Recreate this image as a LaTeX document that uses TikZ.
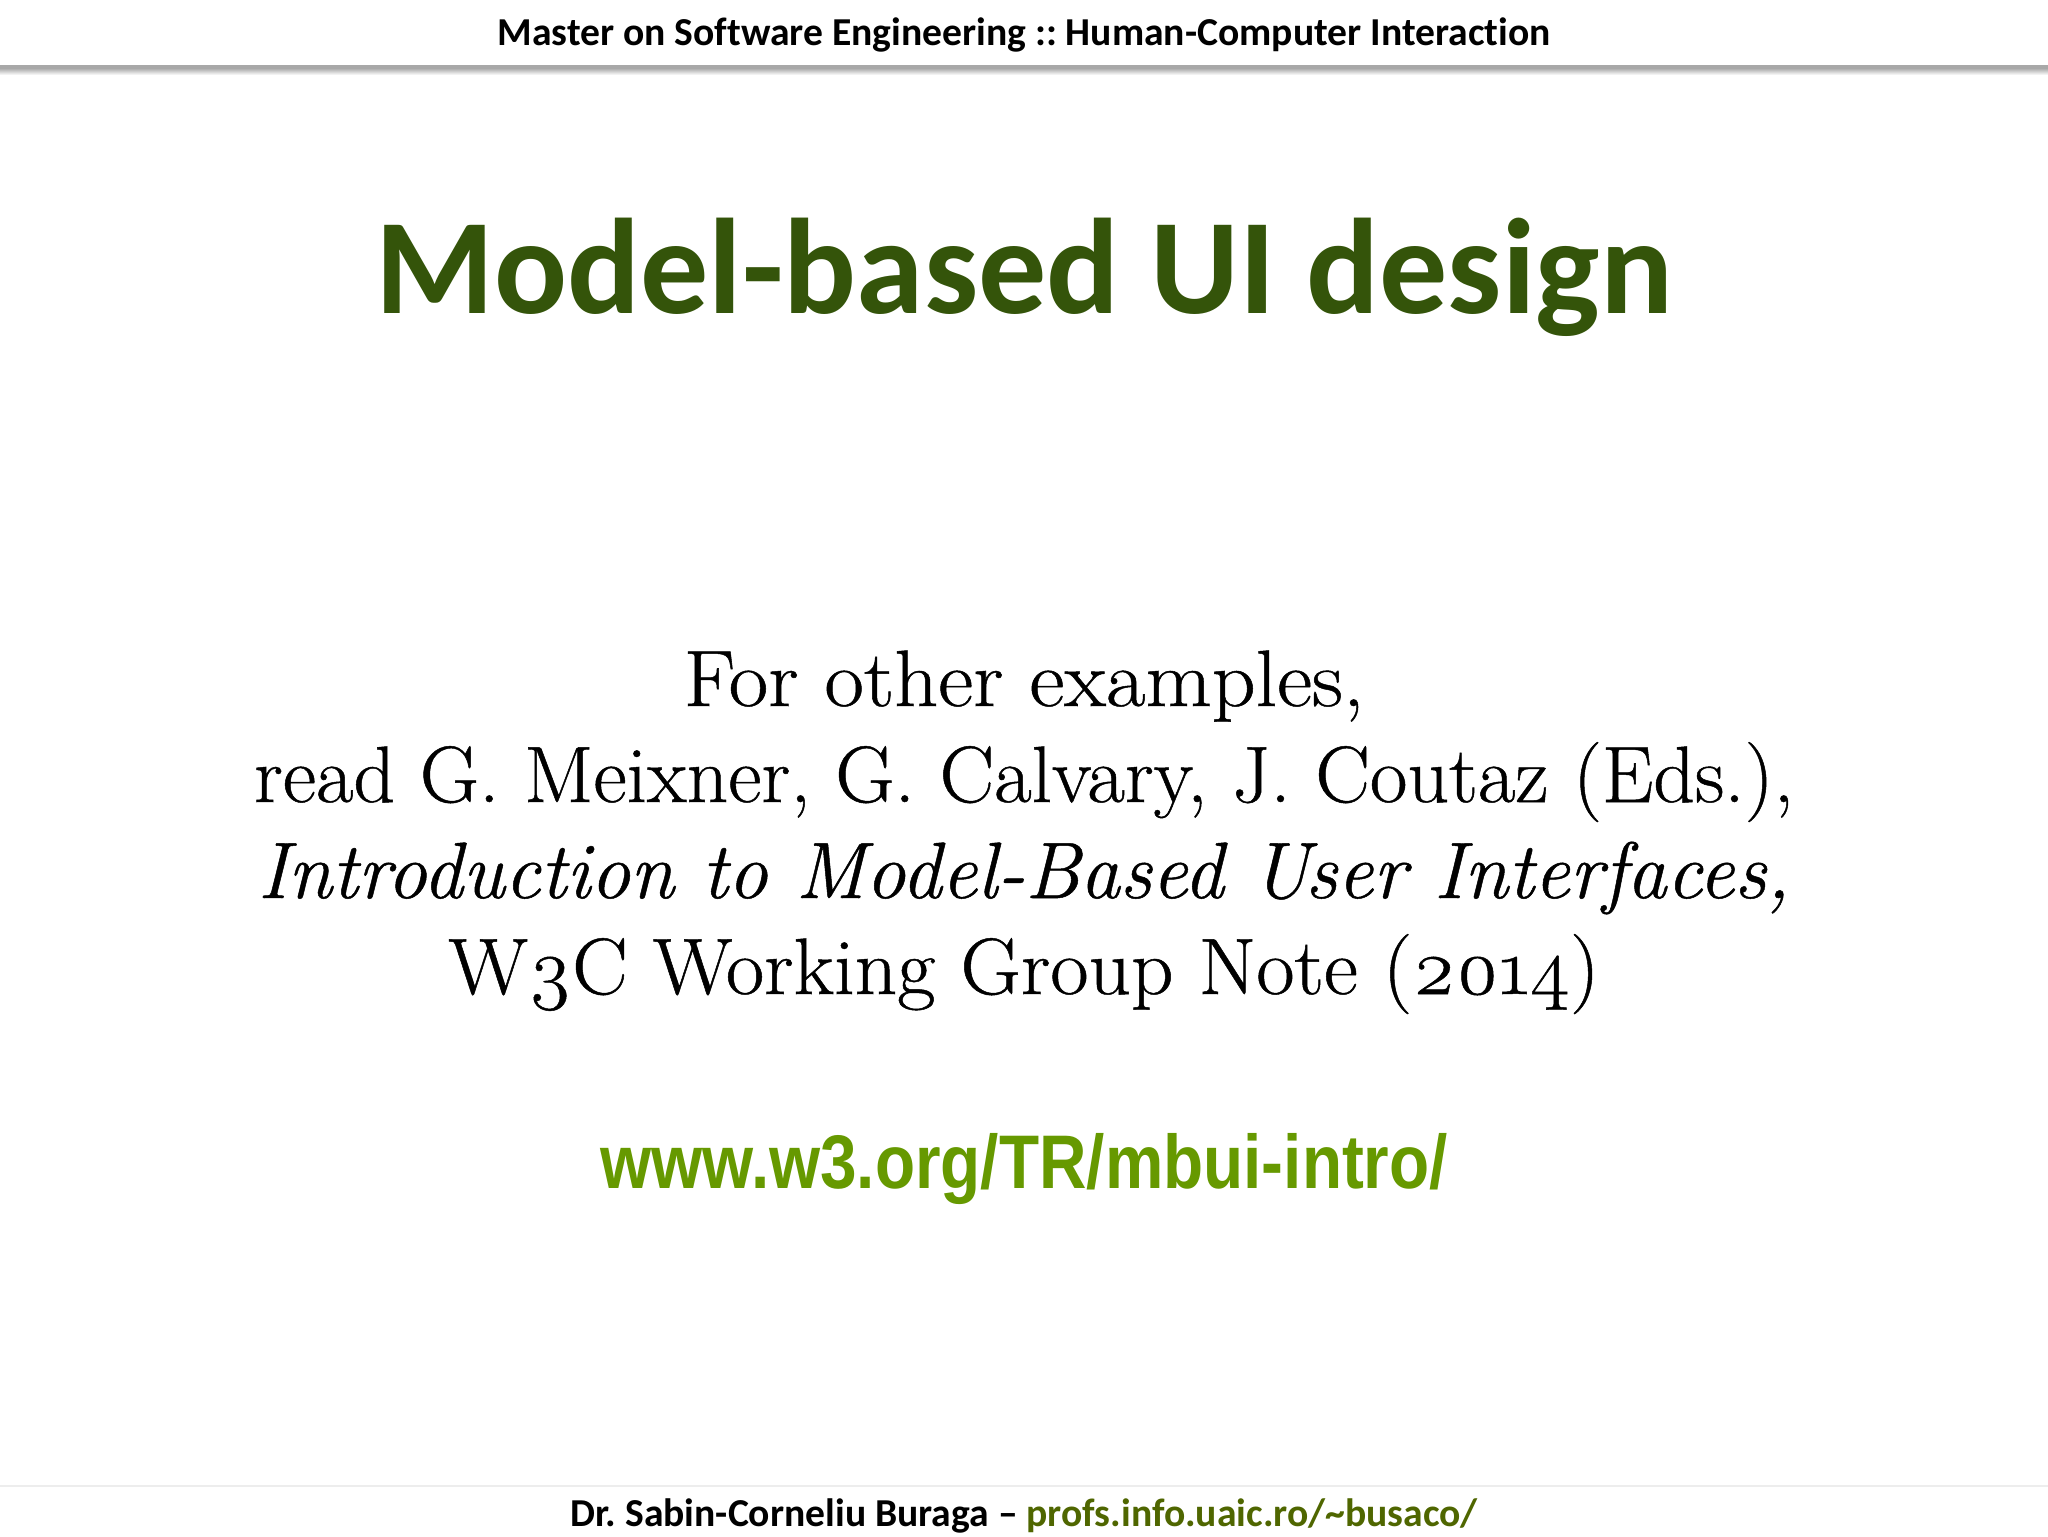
\documentclass[tikz,border=0pt]{standalone}
\usepackage{fontspec}
\setmainfont{Latin Modern Roman}[FakeBold=0.6]
\newfontfamily\carlitofont[Ligatures={NoCommon}]{Carlito}
\newfontfamily\arsfont{Liberation Sans}
\frenchspacing
\definecolor{titlegreen}{HTML}{34540A}
\definecolor{urlgreen}{HTML}{669900}
\definecolor{footgreen}{HTML}{4F6600}
\tikzset{
  x=0.5pt,y=-0.5pt,
  txt/.style={anchor=base,inner sep=0pt,outer sep=0pt,align=center},
  headtxt/.style={txt,font={\carlitofont\bfseries\fontsize{19.8}{22}\selectfont}},
  titletxt/.style={txt,text=titlegreen,font={\carlitofont\bfseries\fontsize{68}{74}\selectfont}},
  bodytxt/.style={txt,font={\fontsize{40}{46}\selectfont}},
  urltxt/.style={txt,text=urlgreen,font={\arsfont\bfseries\fontsize{38}{42}\selectfont}}
}
\begin{document}
\begin{tikzpicture}
\useasboundingbox (0,0) rectangle (2048,1536);
\fill[white] (0,0) rectangle (2048,1536);
\shade[top color=black!35,bottom color=white] (0,68) rectangle (2048,75);
\fill[black!34] (0,65) rectangle (2048,69);
\fill[black!7] (0,1485) rectangle (2048,1487);
\node[headtxt] (head) at (1024,46) {Master on Software Engineering :: Human-Computer Interaction};
\node[titletxt] (title) at (1024,313) {Model-based UI design};
\node[bodytxt] (l1) at (1024,706) {\scalebox{1.074}[1]{For other examples,}};
\node[bodytxt] (l2) at (1024,802) {\scalebox{1.02}[1]{read G. Meixner, G. Calvary, J. Coutaz (Eds.),}};
\node[bodytxt] (l3) at (1024,898) {\scalebox{0.997}[1]{\itshape Introduction to Model-Based User Interfaces,}};
\node[bodytxt] (l4) at (1024,994) {\scalebox{1.04}[1]{W{\addfontfeatures{Numbers=OldStyle}3}C Working Group Note ({\addfontfeatures{Numbers=OldStyle}2014})}};
\node[urltxt] (url) at (1024,1188) {\scalebox{0.864}[1]{www.w3.org/TR/mbui-intro/}};
\node[headtxt] (foot) at (1024,1526) {Dr. Sabin-Corneliu Buraga – \textcolor{footgreen}{profs.info.uaic.ro/\textasciitilde busaco/}};
\end{tikzpicture}
\end{document}
